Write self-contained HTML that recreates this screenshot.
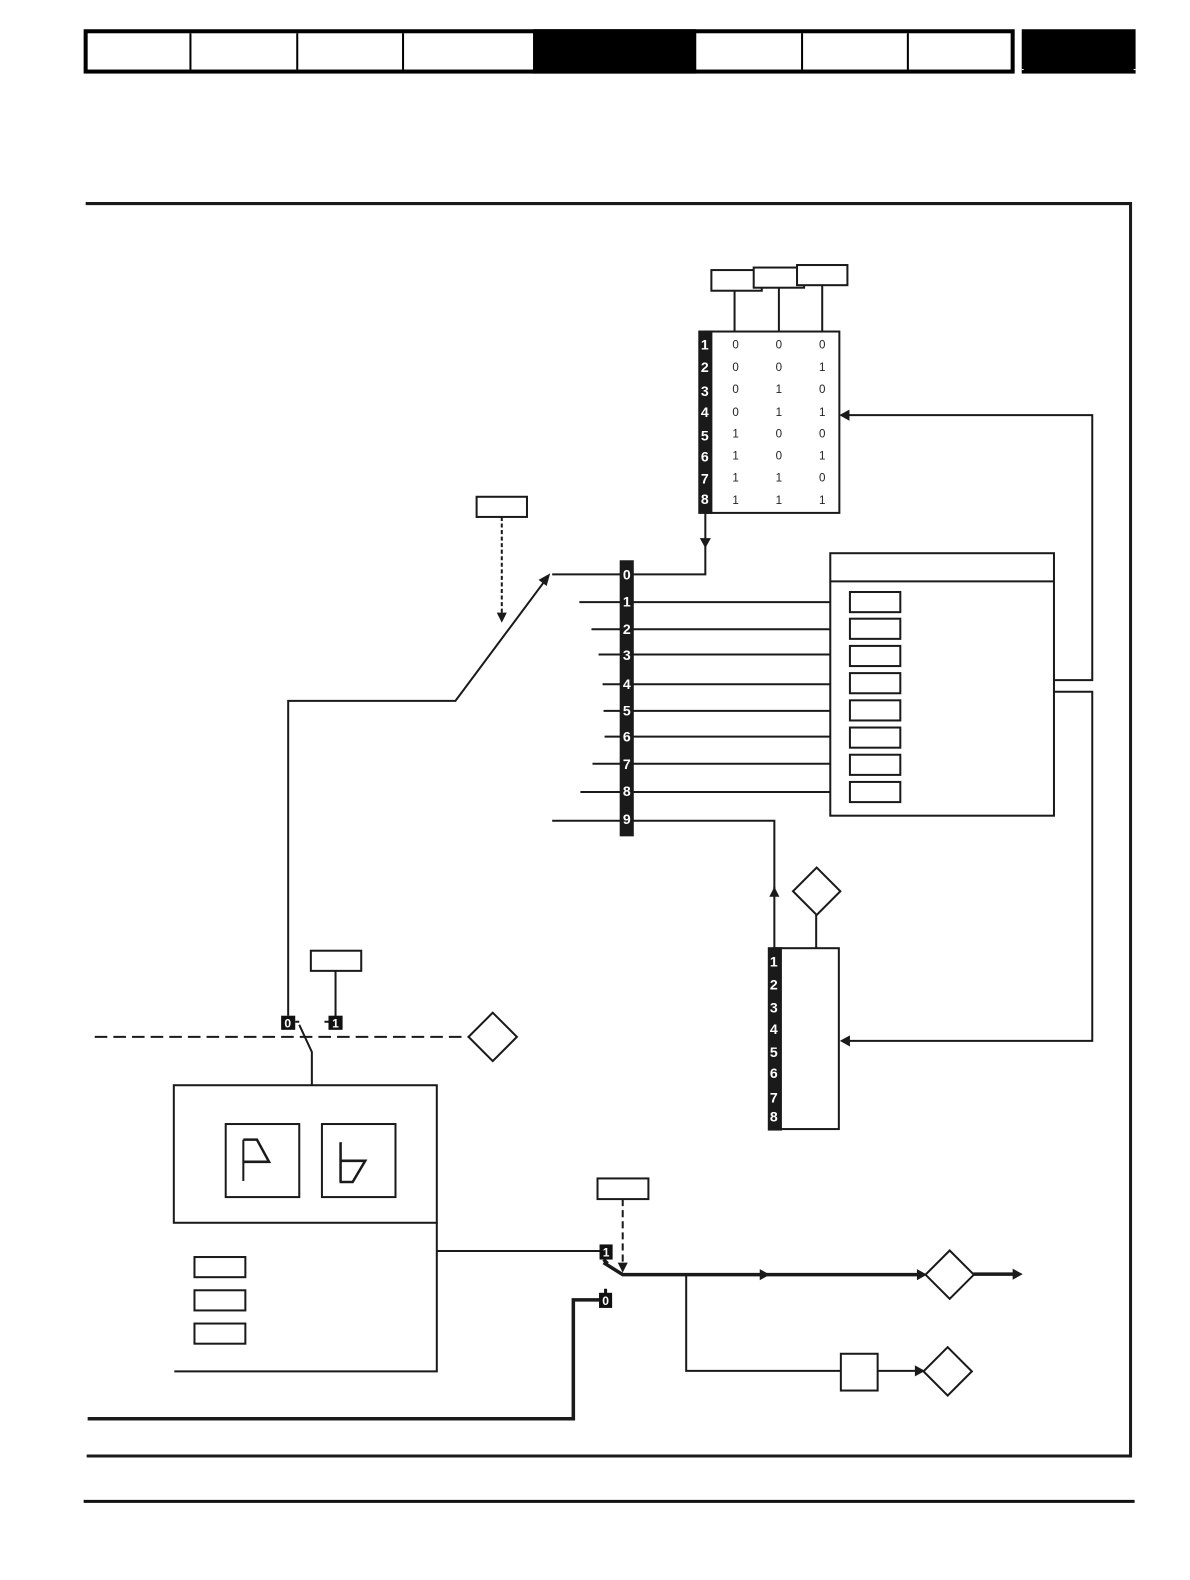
<!DOCTYPE html>
<html><head><meta charset="utf-8"><style>
html,body{margin:0;padding:0;background:#fff}
svg{display:block}
text{font-family:"Liberation Sans",sans-serif}
.n{font-size:14px;font-weight:700;fill:#fff;text-anchor:middle}
.t{font-size:11.5px;fill:#222;text-anchor:middle}
.l{fill:none;stroke:#1a1a1a;stroke-width:2}
.b{fill:#fff;stroke:#1a1a1a;stroke-width:2}
.a{fill:#1a1a1a;stroke:none}
</style></head><body>
<svg width="1190" height="1580" viewBox="0 0 1181 1568" xmlns="http://www.w3.org/2000/svg">
<rect width="1181" height="1568" fill="#fff"/>
<!-- header -->
<rect x="83" y="29" width="924" height="44" fill="#000"/>
<rect x="87" y="33" width="916" height="36" fill="#fff"/>
<rect x="529" y="29" width="162" height="44" fill="#000"/>
<g fill="#000"><rect x="188" y="33" width="2" height="36"/><rect x="294" y="33" width="2" height="36"/><rect x="399" y="33" width="2" height="36"/><rect x="795" y="33" width="2" height="36"/><rect x="900" y="33" width="2" height="36"/></g>
<rect x="1014" y="29" width="113" height="44" fill="#000"/>
<g fill="#fff"><rect x="1014" y="68.500" width="2" height="1"/><rect x="1125" y="68.500" width="2" height="1"/></g>
<!-- frame -->
<path d="M85 202H1122V1445H86" fill="none" stroke="#1a1a1a" stroke-width="3"/>
<path d="M83 1490H1126" fill="none" stroke="#111" stroke-width="3"/>

<!-- top table -->
<path class="l" d="M729 288V329M773 285V329M816 282V329"/>
<rect x="706" y="268" width="50" height="20.500" class="b"/>
<rect x="748" y="265.500" width="50" height="20" class="b"/>
<rect x="791" y="263" width="50" height="20" class="b"/>
<rect x="700" y="329" width="133" height="180" class="b"/>
<rect x="693" y="328" width="14" height="182" fill="#1a1a1a"/>
<g class="n"><text x="699.500" y="347">1</text><text x="699.500" y="369">2</text><text x="699.500" y="393">3</text><text x="699.500" y="414">4</text><text x="699.500" y="437">5</text><text x="699.500" y="458">6</text><text x="699.500" y="480">7</text><text x="699.500" y="500">8</text></g>
<g class="t">
<text x="730" y="346">0</text><text x="773" y="346">0</text><text x="816" y="346">0</text>
<text x="730" y="368">0</text><text x="773" y="368">0</text><text x="816" y="368">1</text>
<text x="730" y="390">0</text><text x="773" y="390">1</text><text x="816" y="390">0</text>
<text x="730" y="413">0</text><text x="773" y="413">1</text><text x="816" y="413">1</text>
<text x="730" y="434">1</text><text x="773" y="434">0</text><text x="816" y="434">0</text>
<text x="730" y="456">1</text><text x="773" y="456">0</text><text x="816" y="456">1</text>
<text x="730" y="478">1</text><text x="773" y="478">1</text><text x="816" y="478">0</text>
<text x="730" y="500">1</text><text x="773" y="500">1</text><text x="816" y="500">1</text>
</g>
<path class="l" d="M1046 675H1084V412H842"/>
<path class="a" d="M833 412L843 406.500V417.500Z"/>
<path class="l" d="M700 510V570H548"/>
<path class="a" d="M700 544L694.500 534H705.500Z"/>

<!-- dashed selector -->
<rect x="473" y="493" width="50" height="20" class="b"/>
<path class="l" d="M498 513V610" stroke-dasharray="4 2.500"/>
<path class="a" d="M498 618L493 608H503Z"/>
<path class="l" d="M286 1008V695.500H452L541 576"/>
<path class="a" d="M546 569L542.500 581.500L534.500 575.500Z"/>

<!-- bus -->
<path class="l" d="M575 597.500H824M587 624.500H824M594 649.500H824M598 679H824M599 705.500H824M600 731H824M588 758H824M576 786H824M548 814.500H768.500V885"/>
<rect x="615" y="556" width="14" height="274" fill="#1a1a1a"/>
<g class="n"><text x="622" y="575">0</text><text x="622" y="602">1</text><text x="622" y="629">2</text><text x="622" y="655">3</text><text x="622" y="684">4</text><text x="622" y="710">5</text><text x="622" y="736">6</text><text x="622" y="763">7</text><text x="622" y="790">8</text><text x="622" y="818">9</text></g>

<!-- right block -->
<rect x="824" y="549" width="222" height="260.500" class="b"/>
<path class="l" d="M824 577H1046"/>
<g class="b">
<rect x="843.500" y="587.500" width="50" height="20"/><rect x="843.500" y="614" width="50" height="20"/><rect x="843.500" y="641" width="50" height="20"/><rect x="843.500" y="668" width="50" height="20"/><rect x="843.500" y="695" width="50" height="20"/><rect x="843.500" y="722" width="50" height="20"/><rect x="843.500" y="749" width="50" height="20"/><rect x="843.500" y="776" width="50" height="20"/>
</g>

<!-- lower table -->
<path class="l" d="M1046 686.500H1084V1033H842"/>
<path class="a" d="M833.500 1033L843.500 1027.500V1038.500Z"/>
<path class="l" d="M768.500 880V941M810 908V941"/>
<path class="a" d="M768.500 880L763.500 890H773.500Z"/>
<path class="b" d="M810.500 861L834 884.500L810.500 908L787 884.500Z"/>
<rect x="769" y="941" width="63.500" height="179.500" class="b"/>
<rect x="762" y="940" width="14" height="182" fill="#1a1a1a"/>
<g class="n"><text x="768" y="959">1</text><text x="768" y="982">2</text><text x="768" y="1005">3</text><text x="768" y="1026">4</text><text x="768" y="1049">5</text><text x="768" y="1070">6</text><text x="768" y="1094">7</text><text x="768" y="1113">8</text></g>

<!-- left switch -->
<rect x="308.500" y="943.500" width="50" height="20" class="b"/>
<path class="l" d="M333 964V1009M322 1014H330"/>
<path class="l" d="M94 1029H465" stroke-dasharray="12.500 6"/>
<path class="b" d="M489 1005L513 1029L489 1053L465 1029Z"/>
<rect x="279" y="1008" width="14" height="14" fill="#111"/>
<rect x="326" y="1008" width="14" height="14" fill="#111"/>
<text class="n" x="285.500" y="1019.500" style="font-size:12px">0</text>
<text class="n" x="333" y="1019.500" style="font-size:12px">1</text>
<path class="l" d="M293 1014H297M297 1017L309.500 1044V1077"/>

<!-- left block -->
<rect x="172.500" y="1077" width="261" height="136.500" class="b"/>
<path class="l" d="M433.500 1213.500V1361H173"/>
<rect x="224" y="1115.500" width="73" height="72.500" class="b"/>
<rect x="319.500" y="1115.500" width="73" height="72.500" class="b"/>
<path class="l" d="M241.500 1172V1131"/>
<path d="M241.500 1131H255L267 1153H241.500" fill="none" stroke="#1a1a1a" stroke-width="2.500"/>
<path d="M338 1133.500V1173" fill="none" stroke="#1a1a1a" stroke-width="2.500"/>
<path d="M338 1152H362.500L350 1173H337" fill="none" stroke="#1a1a1a" stroke-width="2.500"/>
<rect x="193" y="1247.500" width="50.500" height="20" class="b"/>
<rect x="193" y="1280.500" width="50.500" height="20" class="b"/>
<rect x="193" y="1313.500" width="50.500" height="20" class="b"/>

<!-- lower switch -->
<rect x="593" y="1169.500" width="50.500" height="20.500" class="b"/>
<path class="l" d="M618 1190V1256" stroke-dasharray="7 4"/>
<path class="a" d="M618 1263L613 1253H623Z"/>
<path class="l" d="M434 1241.500H596"/>
<rect x="595" y="1235" width="13" height="15" fill="#111"/>
<text class="n" x="601.500" y="1247" style="font-size:12px">1</text>
<path d="M87 1408H569V1290H598" fill="none" stroke="#1a1a1a" stroke-width="3.500"/>
<rect x="594.500" y="1283" width="13" height="15" fill="#111"/>
<rect x="599.500" y="1279" width="3" height="5" fill="#111"/>
<text class="n" x="601" y="1295" style="font-size:12px">0</text>
<path d="M599 1250L603 1254M599 1253L618 1265H915" fill="none" stroke="#1a1a1a" stroke-width="3.500"/>
<path class="a" d="M764 1265L754 1259.500V1270.500Z"/>
<path class="a" d="M920 1265L910 1259.500V1270.500Z"/>
<path class="b" d="M942.500 1241L966.500 1265L942.500 1289L918.500 1265Z"/>
<path d="M966 1264.500H1006" fill="none" stroke="#1a1a1a" stroke-width="3.500"/>
<path class="a" d="M1015 1264.500L1005 1259V1270Z"/>
<path class="l" d="M681 1265V1360.500H835M871 1360.500H910"/>
<rect x="834.500" y="1343.500" width="36.500" height="36.500" class="b"/>
<path class="a" d="M918 1360.500L908 1355V1366Z"/>
<path class="b" d="M940.500 1337L964.500 1361L940.500 1385L916.500 1361Z"/>
</svg>
</body></html>
